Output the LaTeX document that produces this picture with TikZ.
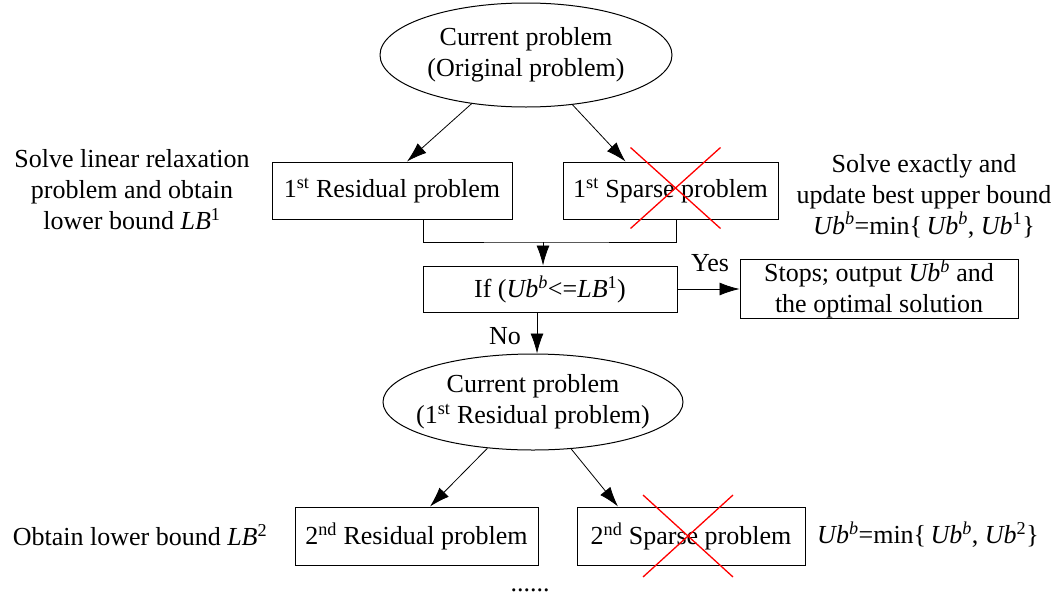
\documentclass[tikz,border=0pt]{standalone}
\usepackage{fontspec}
\setmainfont{Liberation Serif}
\usetikzlibrary{shapes.geometric,arrows.meta}
\newcommand{\Ub}[1]{\textit{Ub}\textsuperscript{#1}}
\newcommand{\Ubb}{\Ub{\textit{b}}}
\newcommand{\LB}[1]{\textit{LB}\textsuperscript{#1}}
\begin{document}
\begin{tikzpicture}[x=1pt,y=-1pt,
	font=\fontsize{26}{31}\selectfont,
	every node/.style={align=center},
	probbox/.style={draw,line width=1pt,inner sep=0pt},
	curprob/.style={draw,ellipse,line width=1pt,inner xsep=-11pt,inner ysep=0pt},
	arr/.style={line width=0.8pt,-{Latex[length=20pt,width=13pt]}},
	cross/.style={red,line width=1.3pt}]
		
		\useasboundingbox (0,0) rectangle (1057,608);

		% First level
		\node[curprob,minimum width=292pt,minimum height=104pt] (cur1) at (526,55) {Current problem\\(Original problem)};
		\node[probbox,minimum width=240pt,minimum height=57pt] (res1) at (392,190.5) {1\textsuperscript{st} Residual problem};
		\node[probbox,minimum width=215pt,minimum height=57pt] (sp1) at (670.5,190.5) {1\textsuperscript{st} Sparse problem};
		\node (lbtxt1) at (132,190) {Solve linear relaxation\\problem and obtain\\lower bound \LB{1}};
		\node (ubtxt1) at (924,196) {Solve exactly and\\update best upper bound\\\Ubb=min\{\,\Ubb, \Ub{1}\}};

		\draw[arr] (cur1) -- ([xshift=15pt]res1.north);
		\draw[arr] (cur1) -- ([xshift=-45pt]sp1.north);
		\draw[cross] ([shift={(-40pt,43pt)}]sp1.center) -- ([shift={(50pt,-38pt)}]sp1.center);
		\draw[cross] ([shift={(50pt,43pt)}]sp1.center) -- ([shift={(-40pt,-38pt)}]sp1.center);

		% Test
		\coordinate (merge) at (543,242);
		\node[probbox,minimum width=254pt,minimum height=46pt] (cond) at (550,289) {If (\Ubb<=\LB{1})};
		\node[probbox,minimum width=278pt,minimum height=58pt] (stop) at (879,289) {Stops; output \Ubb{} and\\the optimal solution};
		\draw[line width=0.8pt] ([xshift=31pt]res1.south) |- (merge) -| ([xshift=6pt]sp1.south);
		\draw[arr] (merge) -- (merge |- cond.north);
		\draw[arr] (cond) -- (stop);
		\node (yes) at (710,263) {Yes};
		\node (no) at (505,336) {No};

		% Second level
		\node[curprob,minimum width=300pt,minimum height=96pt] (cur2) at (533,402) {Current problem\\(1\textsuperscript{st} Residual problem)};
		\draw[arr] ([xshift=-13pt]cond.south) -- ([xshift=-13pt]cond.south |- cur2.north);
		\node[probbox,minimum width=243pt,minimum height=58pt] (res2) at (416.5,536) {2\textsuperscript{nd} Residual problem};
		\node[probbox,minimum width=228pt,minimum height=58pt] (sp2) at (691,536) {2\textsuperscript{nd} Sparse problem};
		\node (lbtxt2) at (140,535) {Obtain lower bound \LB{2}};
		\node (ubtxt2) at (928,535) {\Ubb=min\{\,\Ubb, \Ub{2}\}};
		\node (dots) at (530,590) {......};

		\draw[arr] (cur2) -- ([xshift=13.5pt]res2.north);
		\draw[arr] (cur2) -- ([xshift=-73pt]sp2.north);
		\draw[cross] ([shift={(-48pt,41pt)}]sp2.center) -- ([shift={(42pt,-41pt)}]sp2.center);
		\draw[cross] ([shift={(42pt,41pt)}]sp2.center) -- ([shift={(-48pt,-41pt)}]sp2.center);
		\end{tikzpicture}
\end{document}
